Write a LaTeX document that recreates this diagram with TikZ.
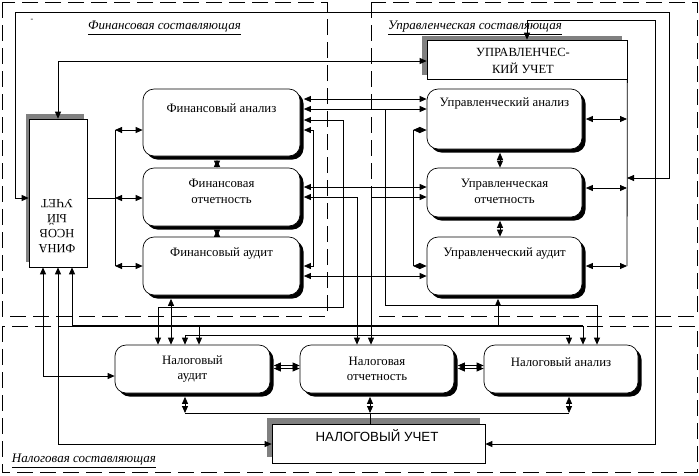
\documentclass[tikz,border=0pt]{standalone}
\usepackage{fontspec}
\setmainfont{Liberation Serif}
\newfontfamily\sansf{Liberation Sans}
\usetikzlibrary{arrows.meta,shadows}
\begin{document}
\begin{tikzpicture}[x=1pt,y=-1pt,
  line width=0.8pt,
  >={Triangle[length=7pt,width=6pt]},
  every node/.style={inner sep=0pt},
  rbox/.style={draw, fill=white, rounded corners=11pt, line width=0.7pt,
     drop shadow={shadow xshift=3.5pt,shadow yshift=-3.5pt,fill=black,opacity=1}},
  acbox/.style={draw, fill=white, line width=0.7pt},
  txt/.style={font=\fontsize{12.8pt}{16pt}\selectfont, align=center},
  region/.style={dash pattern=on 16pt off 7pt, line width=0.8pt},
  lbl/.style={font=\itshape\fontsize{13pt}{14pt}\selectfont},
  sl/.style={shorten <=3.5pt},
  sr/.style={shorten >=3.5pt}]
\useasboundingbox (0,0) rectangle (699,475);
% regions
\draw[region] (2,2) rectangle (327,316);
\draw[region] (371,2) rectangle (697,316);
\draw[region] (2,326) rectangle (697,472);
% accounting boxes
\node[acbox, minimum width=58pt, minimum height=148pt,
  drop shadow={shadow xshift=-3pt,shadow yshift=5pt,fill=black!50,opacity=1}] (fu) at (58,193) {};
\node[acbox, minimum width=200pt, minimum height=39pt,
  drop shadow={shadow xshift=-5pt,shadow yshift=4pt,fill=black!50,opacity=1}] (uu) at (527,59.5) {};
\node[acbox, minimum width=213pt, minimum height=39pt,
  drop shadow={shadow xshift=-5pt,shadow yshift=6pt,fill=black!50,opacity=1}] (nu) at (378.5,443.5) {};
% rounded boxes
\node[rbox, minimum width=157pt, minimum height=67pt] (fa) at (221.5,122.5) {};
\node[rbox, minimum width=157pt, minimum height=58pt] (fo) at (221.5,197) {};
\node[rbox, minimum width=157pt, minimum height=58pt] (fau) at (221.5,266) {};
\node[rbox, minimum width=155pt, minimum height=60pt] (ua) at (504.5,119) {};
\node[rbox, minimum width=155pt, minimum height=49pt] (uo) at (504.5,192.5) {};
\node[rbox, minimum width=155pt, minimum height=58pt] (uau) at (504.5,266) {};
\node[rbox, minimum width=155pt, minimum height=48pt] (nau) at (192.5,369) {};
\node[rbox, minimum width=154pt, minimum height=48pt] (no) at (377,369) {};
\node[rbox, minimum width=154pt, minimum height=48pt] (nan) at (561,369) {};
% long loops
\draw[<->] (fu.west |- 0,198) -- (15,198) -- (15,12) -- (669,12) -- (669,178) -- (627,178);
\draw[<->] (fu.north) -- (58,61) -- (uu.west |- 0,61);
\draw[<->] (nu.east |- 0,444) -- (655,444) -- (655,20) -- (527,20) -- (uu.north);
% financial - managerial links
\draw[<->, sl] (fa.east |- 0,99) -- (ua.west |- 0,99);
\draw[<->, sl] (fa.east |- 0,109) -- (ua.west |- 0,109);
\draw[->] (385,109) -- (385,305) -- (597,305) -- (nan.north -| 597,0);
\draw[<->, sl] (fa.east |- 0,120) -- (343,120) -- (343,307) -- (158,307) -- (nau.north -| 158,0);
\draw[<->, sl, sr] (fa.east |- 0,130) -- (313,130) -- (313,266) -- (fau.east |- 0,266);
\draw (413,130) -- (413,266);
\draw[<->] (413,130) -- (ua.west |- 0,130);
\draw[<->] (413,266) -- (uau.west |- 0,266);
\draw[<->, sl] (fo.east |- 0,187) -- (uo.west |- 0,187);
\draw[<->, sl] (fo.east |- 0,197) -- (357,197) -- (no.north -| 357,0);
\draw[<->] (uo.west |- 0,197) -- (371,197) -- (no.north -| 371,0);
\draw[<->, sl] (fau.east |- 0,276) -- (uau.west |- 0,276);
\draw[<->, sl] (fau.south -| 171,0) -- (nau.north -| 171,0);
% bus at 326
\draw[<->] (fu.south -| 72,0) -- (72,326) -- (583,326) -- (nan.north -| 583,0);
\draw[line width=1.8pt] (72,326) -- (583,326);
\draw[->] (199,326) -- (nau.north -| 199,0);
\draw[->, sr] (498,326) -- (uau.south -| 498,0);
\draw[<->] (nau.north -| 185,0) -- (185,335) -- (569,335) -- (nan.north -| 569,0);
% left links
\draw[<->] (fu.south -| 43,0) -- (43,376) -- (nau.west |- 0,376);
\draw[<->] (fu.south -| 58,0) -- (58,444) -- (nu.west |- 0,444);
% left bus
\draw (115,130) -- (115,266);
\draw (fu.east |- 0,198) -- (115,198);
\draw[<->] (115,130) -- (fa.west |- 0,130);
\draw[<->] (115,198) -- (fo.west |- 0,198);
\draw[<->] (115,266) -- (fau.west |- 0,266);
% right bus
\draw (uu.south east) -- (627,266);
\draw[<->, sl] (ua.east |- 0,119) -- (627,119);
\draw[<->, sl] (uo.east |- 0,188) -- (627,188);
\draw[<->, sl] (uau.east |- 0,266) -- (627,266);
% vertical small links
\draw[<->, sl] (fa.south -| 217,0) -- (fo.north -| 217,0);
\draw[<->, sl] (fo.south -| 217,0) -- (fau.north -| 217,0);
\draw[<->, sl] (ua.south -| 500,0) -- (uo.north -| 500,0);
\draw[<->, sl] (uo.south -| 500,0) -- (uau.north -| 500,0);
% tax links
\draw[<->, sl] (nau.east |- 0,365.5) -- (no.west |- 0,365.5);
\draw[<->, sl] (nau.east |- 0,368.5) -- (no.west |- 0,368.5);
\draw[<->, sl] (no.east |- 0,365.5) -- (nan.west |- 0,365.5);
\draw[<->, sl] (no.east |- 0,368.5) -- (nan.west |- 0,368.5);
\draw[<->, sl] (nau.south -| 185,0) -- (185,413);
\draw[<->, sl] (no.south -| 370,0) -- (370,413);
\draw[<->, sl] (nan.south -| 569,0) -- (569,413);
\draw (185,413) -- (569,413);
\draw (370,413) -- (nu.north -| 370,0);
% texts
\node[txt] (fat) at (221.5,108) {Финансовый анализ};
\node[txt] (fot) at (221.5,191) {Финансовая\\отчетность};
\node[txt] (faut) at (221.5,253) {Финансовый аудит};
\node[txt] (uat) at (504.5,103) {Управленческий анализ};
\node[txt] (uot) at (504.5,191) {Управленческая\\отчетность};
\node[txt] (uaut) at (504.5,253) {Управленческий аудит};
\node[txt, font=\fontsize{12.8pt}{14.5pt}\selectfont] (naut) at (192.5,369) {Налоговый\\аудит};
\node[txt, font=\fontsize{12.8pt}{14.5pt}\selectfont] (not) at (377,369) {Налоговая\\отчетность};
\node[txt] (nant) at (561,362) {Налоговый анализ};
\node[txt, font=\fontsize{12.5pt}{17pt}\selectfont] (uut) at (523,60.5) {УПРАВЛЕНЧЕС-\\КИЙ УЧЕТ};
\node[txt, font=\sansf\fontsize{13.3pt}{14pt}\selectfont] (nut) at (377,436) {НАЛОГОВЫЙ УЧЕТ};
\node[txt, rotate=180, font=\fontsize{12.5pt}{15pt}\selectfont] (fut) at (57,226) {ФИНА\\НСОВ\\ЫЙ\\УЧЕТ};
\node[lbl] (lf) at (164.5,28) {\underline{Финансовая составляющая}};
\node[lbl] (lm) at (475,28) {\underline{Управленческая составляющая}};
\node[lbl] (lt) at (84,461) {\underline{Налоговая составляющая}};
\node (dsh) at (32,20) {\fontsize{8pt}{8pt}\selectfont -};
\end{tikzpicture}
\end{document}
